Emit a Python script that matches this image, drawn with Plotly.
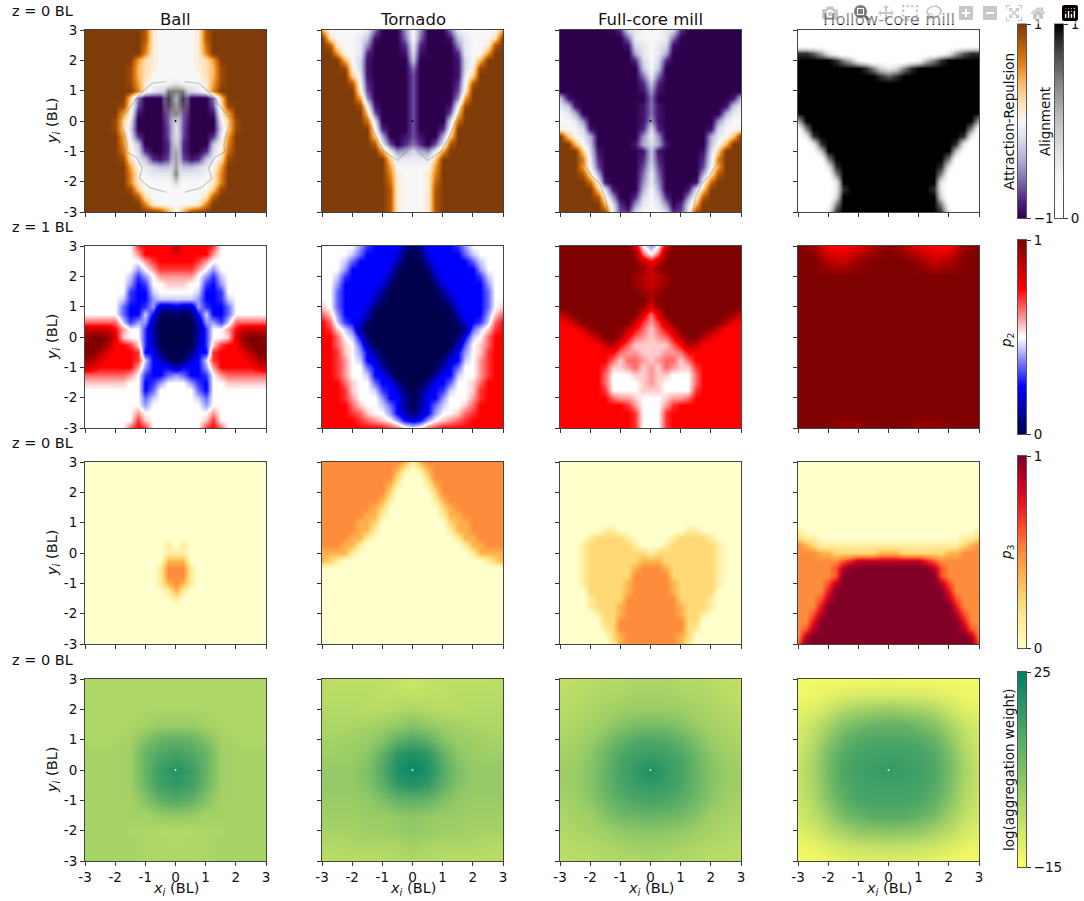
import numpy as np
import plotly.graph_objects as go
from plotly.subplots import make_subplots

# Every map is left-right symmetric, so rows hold x = -3 .. 0 and get mirrored.
# Rows run from y = 3 at the top to y = -3 at the bottom.
titles = ["Ball", "Tornado", "Full-core mill", "Hollow-core mill"]
row_labels = ["z = 0 BL", "z = 1 BL", "z = 0 BL", "z = 0 BL"]
tick_vals = [-3, -2, -1, 0, 1, 2, 3]
tick_text = ["-3", "-2", "-1", "0", "1", "2", "3"]

# attraction-repulsion, in tenths (-10 .. 10)
ball_attract = [
    [10,10,10,10,10,10,10,10,8,1,0,0,0],
    [10,10,10,10,10,10,10,10,8,1,0,0,0],
    [10,10,10,10,10,10,10,10,7,1,0,0,0],
    [10,10,10,10,10,10,10,10,6,1,0,0,0],
    [10,10,10,10,10,10,10,5,2,1,0,0,0],
    [10,10,10,10,10,10,9,4,2,1,0,0,0],
    [10,10,10,10,10,10,9,4,2,0,0,0,0],
    [10,10,10,10,10,10,9,5,1,0,0,0,0],
    [10,10,10,10,10,10,10,6,1,-1,-2,-1,0],
    [10,10,10,10,10,10,3,-6,-10,-10,-10,-7,-1],
    [10,10,10,10,10,9,2,-7,-10,-10,-10,-8,-1],
    [10,10,10,10,10,5,1,-9,-10,-10,-10,-8,-1],
    [10,10,10,10,9,3,-1,-10,-10,-10,-10,-7,-1],
    [10,10,10,10,9,3,-2,-10,-10,-10,-10,-7,-1],
    [10,10,10,10,10,5,-1,-8,-10,-10,-10,-7,-1],
    [10,10,10,10,10,6,0,-3,-10,-10,-10,-8,-1],
    [10,10,10,10,10,7,1,-2,-8,-10,-10,-8,-1],
    [10,10,10,10,10,9,2,-1,-3,-8,-9,-7,-1],
    [10,10,10,10,10,10,5,0,-1,-2,-3,-3,-1],
    [10,10,10,10,10,10,6,1,0,-1,-1,-1,-1],
    [10,10,10,10,10,10,6,1,0,0,0,0,-1],
    [10,10,10,10,10,10,9,3,0,0,0,0,0],
    [10,10,10,10,10,10,10,8,2,0,0,0,0],
    [10,10,10,10,10,10,10,10,6,1,0,0,0],
    [10,10,10,10,10,10,10,10,10,10,9,5,0],
]
tornado_attract = [
    [5,0,0,0,0,0,-1,-6,-10,-10,-10,-5,0],
    [10,2,0,0,0,-1,-3,-9,-10,-10,-10,-6,0],
    [10,8,1,0,0,-1,-5,-10,-10,-10,-10,-8,-1],
    [10,10,5,0,0,-1,-8,-10,-10,-10,-10,-9,-2],
    [10,10,10,4,0,-2,-9,-10,-10,-10,-10,-10,-3],
    [10,10,10,9,1,-2,-9,-10,-10,-10,-10,-10,-6],
    [10,10,10,10,3,-1,-9,-10,-10,-10,-10,-10,-7],
    [10,10,10,10,8,0,-8,-10,-10,-10,-10,-10,-7],
    [10,10,10,10,10,1,-7,-10,-10,-10,-10,-10,-7],
    [10,10,10,10,10,5,-5,-10,-10,-10,-10,-10,-7],
    [10,10,10,10,10,9,0,-9,-10,-10,-10,-10,-7],
    [10,10,10,10,10,10,3,-7,-10,-10,-10,-10,-7],
    [10,10,10,10,10,10,7,-2,-10,-10,-10,-10,-7],
    [10,10,10,10,10,10,10,0,-8,-10,-10,-10,-7],
    [10,10,10,10,10,10,10,3,-4,-10,-10,-9,-7],
    [10,10,10,10,10,10,10,8,-1,-7,-10,-8,-6],
    [10,10,10,10,10,10,10,10,5,-1,-5,-4,-2],
    [10,10,10,10,10,10,10,10,10,3,-1,-1,-1],
    [10,10,10,10,10,10,10,10,10,5,0,0,0],
    [10,10,10,10,10,10,10,10,10,6,1,0,0],
    [10,10,10,10,10,10,10,10,10,7,1,0,0],
    [10,10,10,10,10,10,10,10,10,8,1,0,0],
    [10,10,10,10,10,10,10,10,10,8,1,0,0],
    [10,10,10,10,10,10,10,10,10,8,1,0,0],
    [10,10,10,10,10,10,10,10,10,8,1,0,0],
]
full_attract = [
    [-10,-10,-10,-10,-10,-10,-10,-10,-8,-2,-1,0,0],
    [-10,-10,-10,-10,-10,-10,-10,-10,-10,-6,-1,0,0],
    [-10,-10,-10,-10,-10,-10,-10,-10,-10,-9,-2,-1,0],
    [-10,-10,-10,-10,-10,-10,-10,-10,-10,-10,-4,-1,0],
    [-10,-10,-10,-10,-10,-10,-10,-10,-10,-10,-8,-2,0],
    [-10,-10,-10,-10,-10,-10,-10,-10,-10,-10,-10,-3,0],
    [-10,-10,-10,-10,-10,-10,-10,-10,-10,-10,-10,-6,-1],
    [-10,-10,-10,-10,-10,-10,-10,-10,-10,-10,-10,-8,-3],
    [-10,-10,-10,-10,-10,-10,-10,-10,-10,-10,-10,-9,-5],
    [-3,-9,-10,-10,-10,-10,-10,-10,-10,-10,-10,-10,-6],
    [-1,-3,-9,-10,-10,-10,-10,-10,-10,-10,-10,-9,-6],
    [0,-1,-4,-10,-10,-10,-10,-10,-10,-10,-10,-9,-6],
    [0,0,-1,-5,-10,-10,-10,-10,-10,-10,-10,-9,-5],
    [1,0,0,-2,-9,-10,-10,-10,-10,-10,-10,-8,-2],
    [10,3,0,-1,-4,-10,-10,-10,-10,-10,-10,-5,-1],
    [10,10,4,0,-3,-10,-10,-10,-10,-10,-9,-4,-2],
    [10,10,10,3,-2,-9,-10,-10,-10,-10,-10,-9,-3],
    [10,10,10,6,-1,-8,-10,-10,-10,-10,-10,-8,-3],
    [10,10,10,5,0,-7,-10,-10,-10,-10,-10,-7,-2],
    [10,10,10,8,2,-4,-10,-10,-10,-10,-10,-6,-1],
    [10,10,10,10,7,0,-9,-10,-10,-10,-10,-5,-1],
    [10,10,10,10,10,3,-2,-9,-10,-10,-10,-4,0],
    [10,10,10,10,10,8,1,-5,-10,-10,-8,-2,0],
    [10,10,10,10,10,10,4,-2,-8,-10,-5,-1,0],
    [10,10,10,10,10,10,9,-1,-7,-8,-2,0,0],
]

# thin grey traces along the attraction boundary, left half
ball_ring_x = [-0.3, -0.75, -1.0, -1.25, -1.5, -1.8, -1.82, -1.7, -1.6, -1.65, -1.3, -1.1, -1.2, -0.85, -0.3]
ball_ring_y = [1.3, 1.25, 1.05, 0.8, 0.45, 0.1, -0.1, -0.4, -0.8, -1.0, -1.2, -1.55, -1.9, -2.2, -2.35]
tornado_ring_x = [-1.65, -1.45, -1.2, -0.95, -0.5, -0.1]
tornado_ring_y = [0.5, 0.0, -0.55, -1.0, -1.3, -0.9]
full_ring_x = [-2.4, -2.25, -2.15, -1.95, -1.7, -1.5, -1.4]
full_ring_y = [-1.0, -1.3, -1.5, -1.8, -2.05, -2.5, -3.0]

# alignment, in tenths (0 .. 10)
hollow_align = [
    [0,0,0,0,0,0,0,0,0,0,0,0,0],
    [0,0,0,0,0,0,0,0,0,0,0,0,0],
    [0,0,0,0,0,0,0,0,0,0,0,0,0],
    [9,9,8,6,3,1,0,0,0,0,0,0,0],
    [10,10,10,10,10,9,7,5,2,1,0,0,0],
    [10,10,10,10,10,10,10,10,10,9,7,4,3],
    [10,10,10,10,10,10,10,10,10,10,10,9,8],
    [10,10,10,10,10,10,10,10,10,10,10,10,10],
    [10,10,10,10,10,10,10,10,10,10,10,10,10],
    [10,10,10,10,10,10,10,10,10,10,10,10,10],
    [10,10,10,10,10,10,10,10,10,10,10,10,10],
    [10,10,10,10,10,10,10,10,10,10,10,10,10],
    [6,10,10,10,10,10,10,10,10,10,10,10,10],
    [1,7,10,10,10,10,10,10,10,10,10,10,10],
    [0,3,9,10,10,10,10,10,10,10,10,10,10],
    [0,0,3,9,10,10,10,10,10,10,10,10,10],
    [0,0,1,5,10,10,10,10,10,10,10,10,10],
    [0,0,0,1,7,10,10,10,10,10,10,10,10],
    [0,0,0,0,3,9,10,10,10,10,10,10,10],
    [0,0,0,0,1,7,10,10,10,10,10,10,10],
    [0,0,0,0,0,3,10,10,10,10,10,10,10],
    [0,0,0,0,0,3,9,10,10,10,10,10,10],
    [0,0,0,0,0,4,10,10,10,10,10,10,10],
    [0,0,0,0,1,7,10,10,10,10,10,10,10],
    [0,0,0,0,3,9,10,10,10,10,10,10,10],
]
# grey streak of the ball, columns x = -0.5 .. 0.5, rows y = 1.5 .. -2.25
ball_streak_x = [-0.5, -0.25, 0, 0.25, 0.5]
ball_streak_y = [1.5, 1.25, 1, 0.75, 0.5, 0.25, 0, -0.25, -0.5, -0.75, -1, -1.25, -1.5, -1.75, -2, -2.25]
ball_streak = [
    [0,0,0,0,0],
    [0,1,3,1,0],
    [1,7,7,7,1],
    [0,8,5,8,0],
    [0,7,6,7,0],
    [0,3,7,3,0],
    [0,1,4,1,0],
    [0,0,2,0,0],
    [0,0,3,0,0],
    [0,0,4,0,0],
    [0,0,6,0,0],
    [0,0,6,0,0],
    [0,0,6,0,0],
    [0,0,7,0,0],
    [0,0,4,0,0],
    [0,0,0,0,0],
]

# p2, in twentieths (10 is the white middle of the scale)
ball_p2 = [
    [10,10,10,10,10,10,10,14,15,15,15,15,18],
    [10,10,10,10,10,10,10,12,15,15,15,15,16],
    [10,10,10,10,10,10,10,10,12,14,15,15,15],
    [10,10,10,10,10,10,10,8,10,12,14,14,14],
    [10,10,10,10,10,10,9,6,8,10,12,12,12],
    [10,10,10,10,10,10,8,5,6,10,10,11,11],
    [10,10,10,10,10,10,6,5,5,9,10,10,10],
    [10,10,10,10,10,9,6,5,5,8,9,9,9],
    [10,10,10,10,10,7,5,5,6,8,3,3,4],
    [10,10,10,10,10,7,5,5,9,5,1,0,1],
    [13,13,13,13,13,9,6,8,8,3,0,0,0],
    [17,17,17,17,15,12,10,10,6,2,0,0,0],
    [19,20,20,19,16,11,10,10,6,3,0,0,0],
    [20,20,20,18,15,15,14,11,6,3,0,0,0],
    [20,20,18,16,15,15,15,14,5,5,1,0,0],
    [19,18,16,15,15,15,15,14,9,5,4,1,0],
    [17,16,15,15,15,15,15,12,8,5,5,5,3],
    [13,13,13,13,13,13,12,10,6,5,5,7,8],
    [11,11,11,11,11,11,10,10,5,6,8,10,10],
    [10,10,10,10,10,10,10,10,5,7,10,10,10],
    [10,10,10,10,10,10,10,10,7,9,10,10,10],
    [10,10,10,10,10,10,10,10,8,10,10,10,10],
    [10,10,10,10,10,10,10,12,10,10,10,10,10],
    [10,10,10,10,10,10,10,14,11,10,10,10,10],
    [10,10,10,10,10,10,13,15,14,10,10,10,10],
]
tornado_p2 = [
    [10,10,10,10,10,8,6,5,5,5,5,2,0],
    [10,10,10,10,9,7,5,5,5,5,4,1,0],
    [10,10,10,9,7,5,5,5,5,5,3,0,0],
    [10,10,10,8,5,5,5,5,5,4,1,0,0],
    [10,10,9,6,5,5,5,5,5,3,0,0,0],
    [10,10,8,5,5,5,5,5,4,1,0,0,0],
    [10,10,7,5,5,5,5,4,2,0,0,0,0],
    [10,10,7,5,5,5,5,3,1,0,0,0,0],
    [11,10,7,5,5,5,4,1,0,0,0,0,0],
    [13,11,8,5,5,5,3,0,0,0,0,0,0],
    [15,13,9,6,5,4,1,0,0,0,0,0,0],
    [15,14,11,9,7,2,0,0,0,0,0,0,0],
    [15,15,13,10,9,5,1,0,0,0,0,0,0],
    [15,15,13,11,10,7,3,0,0,0,0,0,0],
    [15,15,14,11,10,8,5,2,0,0,0,0,0],
    [15,15,14,12,10,9,5,4,1,0,0,0,0],
    [15,15,14,12,10,10,7,5,3,0,0,0,0],
    [15,15,14,12,10,10,9,5,5,2,0,0,0],
    [15,15,15,13,11,10,10,7,5,5,2,0,0],
    [15,15,15,14,11,10,10,9,6,5,4,1,0],
    [15,15,15,14,12,10,10,10,8,5,5,2,0],
    [15,15,15,15,13,11,10,10,9,7,5,2,0],
    [15,15,15,15,14,13,11,10,10,8,5,3,1],
    [15,15,15,15,15,14,13,12,11,10,8,5,4],
    [15,15,15,15,15,15,15,15,15,14,13,11,10],
]
full_p2 = [
    [20,20,20,20,20,20,20,20,20,20,17,10,8],
    [20,20,20,20,20,20,20,20,20,20,19,13,10],
    [20,20,20,20,20,20,20,20,20,20,20,17,15],
    [20,20,20,20,20,20,20,20,20,20,20,19,17],
    [20,20,20,20,20,20,20,20,20,20,19,18,17],
    [20,20,20,20,20,20,20,20,20,20,19,18,17],
    [20,20,20,20,20,20,20,20,20,20,20,19,18],
    [20,20,20,20,20,20,20,20,20,20,20,20,18],
    [20,20,20,20,20,20,20,20,20,20,20,19,16],
    [17,19,20,20,20,20,20,20,20,20,20,16,13],
    [15,16,18,20,20,20,20,20,20,20,17,14,12],
    [15,15,15,17,19,20,20,20,20,17,15,13,11],
    [15,15,15,15,16,18,20,20,18,15,13,12,11],
    [15,15,15,15,15,15,17,18,15,13,11,11,11],
    [15,15,15,15,15,15,15,15,13,12,12,11,11],
    [15,15,15,15,15,15,15,13,11,13,13,12,11],
    [15,15,15,15,15,15,14,11,11,12,13,11,12],
    [15,15,15,15,15,15,13,10,10,10,11,11,12],
    [15,15,15,15,15,15,13,10,10,10,10,11,12],
    [15,15,15,15,15,15,14,10,10,10,10,11,11],
    [15,15,15,15,15,15,15,13,12,12,11,10,10],
    [15,15,15,15,15,15,15,15,15,14,12,10,10],
    [15,15,15,15,15,15,15,15,15,15,14,10,10],
    [15,15,15,15,15,15,15,15,15,15,14,10,10],
    [15,15,15,15,15,15,15,15,15,15,14,10,10],
]
# 0.5 BL steps are enough for this flat one
hollow_p2 = [
    [20,19,15,15,16,18,20],
    [20,20,18,17,19,20,20],
    [20,20,20,20,20,20,20],
    [20,20,20,20,20,20,20],
    [20,20,20,20,20,20,20],
    [20,20,20,20,20,20,20],
    [20,20,20,20,20,20,20],
    [20,20,20,20,20,20,20],
    [20,20,20,20,20,20,20],
    [20,20,20,20,20,20,20],
    [20,20,20,20,20,20,20],
    [20,20,20,20,20,20,20],
    [20,20,20,19,19,20,20],
]

# p3, in eighths
ball_p3 = [
    [0,0,0,0,0,0,0,0,0,0,0,0,0],
    [0,0,0,0,0,0,0,0,0,0,0,0,0],
    [0,0,0,0,0,0,0,0,0,0,0,0,0],
    [0,0,0,0,0,0,0,0,0,0,0,0,0],
    [0,0,0,0,0,0,0,0,0,0,0,0,0],
    [0,0,0,0,0,0,0,0,0,0,0,0,0],
    [0,0,0,0,0,0,0,0,0,0,0,0,0],
    [0,0,0,0,0,0,0,0,0,0,0,0,0],
    [0,0,0,0,0,0,0,0,0,0,0,0,0],
    [0,0,0,0,0,0,0,0,0,0,0,0,0],
    [0,0,0,0,0,0,0,0,0,0,0,0,0],
    [0,0,0,0,0,0,0,0,0,0,0,1,0],
    [0,0,0,0,0,0,0,0,0,0,0,1,1],
    [0,0,0,0,0,0,0,0,0,0,0,3,3],
    [0,0,0,0,0,0,0,0,0,0,1,4,4],
    [0,0,0,0,0,0,0,0,0,0,1,4,4],
    [0,0,0,0,0,0,0,0,0,0,1,3,4],
    [0,0,0,0,0,0,0,0,0,0,0,1,3],
    [0,0,0,0,0,0,0,0,0,0,0,0,1],
    [0,0,0,0,0,0,0,0,0,0,0,0,0],
    [0,0,0,0,0,0,0,0,0,0,0,0,0],
    [0,0,0,0,0,0,0,0,0,0,0,0,0],
    [0,0,0,0,0,0,0,0,0,0,0,0,0],
    [0,0,0,0,0,0,0,0,0,0,0,0,0],
    [0,0,0,0,0,0,0,0,0,0,0,0,0],
]
tornado_p3 = [
    [4,4,4,4,4,4,4,4,4,4,4,3,1],
    [4,4,4,4,4,4,4,4,4,4,3,1,0],
    [4,4,4,4,4,4,4,4,4,4,2,0,0],
    [4,4,4,4,4,4,4,4,4,3,1,0,0],
    [4,4,4,4,4,4,4,4,4,2,0,0,0],
    [4,4,4,4,4,4,4,4,3,1,0,0,0],
    [4,4,4,4,4,4,4,3,2,0,0,0,0],
    [4,4,4,4,4,4,3,3,1,0,0,0,0],
    [4,4,4,4,4,3,3,2,0,0,0,0,0],
    [4,4,4,4,4,3,3,1,0,0,0,0,0],
    [4,4,4,4,3,3,1,0,0,0,0,0,0],
    [4,4,4,3,3,1,0,0,0,0,0,0,0],
    [3,3,3,3,1,0,0,0,0,0,0,0,0],
    [3,2,1,0,0,0,0,0,0,0,0,0,0],
    [0,0,0,0,0,0,0,0,0,0,0,0,0],
    [0,0,0,0,0,0,0,0,0,0,0,0,0],
    [0,0,0,0,0,0,0,0,0,0,0,0,0],
    [0,0,0,0,0,0,0,0,0,0,0,0,0],
    [0,0,0,0,0,0,0,0,0,0,0,0,0],
    [0,0,0,0,0,0,0,0,0,0,0,0,0],
    [0,0,0,0,0,0,0,0,0,0,0,0,0],
    [0,0,0,0,0,0,0,0,0,0,0,0,0],
    [0,0,0,0,0,0,0,0,0,0,0,0,0],
    [0,0,0,0,0,0,0,0,0,0,0,0,0],
    [0,0,0,0,0,0,0,0,0,0,0,0,0],
]
full_p3 = [
    [0,0,0,0,0,0,0,0,0,0,0,0,0],
    [0,0,0,0,0,0,0,0,0,0,0,0,0],
    [0,0,0,0,0,0,0,0,0,0,0,0,0],
    [0,0,0,0,0,0,0,0,0,0,0,0,0],
    [0,0,0,0,0,0,0,0,0,0,0,0,0],
    [0,0,0,0,0,0,0,0,0,0,0,0,0],
    [0,0,0,0,0,0,0,0,0,0,0,0,0],
    [0,0,0,0,0,0,0,0,0,0,0,0,0],
    [0,0,0,0,0,0,0,0,0,0,0,0,0],
    [0,0,0,0,0,0,1,1,0,0,0,0,0],
    [0,0,0,0,1,2,2,2,2,1,0,0,0],
    [0,0,0,1,2,2,2,2,2,2,1,0,0],
    [0,0,0,1,2,2,2,2,2,2,2,2,1],
    [0,0,0,1,2,2,2,2,2,2,2,3,3],
    [0,0,0,1,2,2,2,2,2,2,3,4,4],
    [0,0,0,1,2,2,2,2,2,2,4,4,4],
    [0,0,0,1,2,2,2,2,2,3,4,4,4],
    [0,0,0,0,2,2,2,2,2,3,4,4,4],
    [0,0,0,0,1,2,2,2,2,4,4,4,4],
    [0,0,0,0,1,2,2,2,3,4,4,4,4],
    [0,0,0,0,0,1,2,2,3,4,4,4,4],
    [0,0,0,0,0,0,2,2,4,4,4,4,4],
    [0,0,0,0,0,0,1,2,4,4,4,4,4],
    [0,0,0,0,0,0,0,2,3,4,4,4,4],
    [0,0,0,0,0,0,0,1,3,4,4,4,4],
]
hollow_p3 = [
    [0,0,0,0,0,0,0,0,0,0,0,0,0],
    [0,0,0,0,0,0,0,0,0,0,0,0,0],
    [0,0,0,0,0,0,0,0,0,0,0,0,0],
    [0,0,0,0,0,0,0,0,0,0,0,0,0],
    [0,0,0,0,0,0,0,0,0,0,0,0,0],
    [0,0,0,0,0,0,0,0,0,0,0,0,0],
    [0,0,0,0,0,0,0,0,0,0,0,0,0],
    [0,0,0,0,0,0,0,0,0,0,0,0,0],
    [0,0,0,0,0,0,0,0,0,0,0,0,0],
    [1,0,0,0,0,0,0,0,0,0,0,0,0],
    [2,1,1,0,0,0,0,0,0,0,0,0,0],
    [4,3,2,1,1,1,1,1,1,1,1,1,1],
    [4,4,4,3,3,2,2,2,2,2,2,3,3],
    [4,4,4,4,4,4,5,6,7,7,7,7,7],
    [4,4,4,4,4,5,7,8,8,8,8,8,8],
    [4,4,4,4,4,5,8,8,8,8,8,8,8],
    [4,4,4,4,5,7,8,8,8,8,8,8,8],
    [4,4,4,4,6,8,8,8,8,8,8,8,8],
    [4,4,4,5,7,8,8,8,8,8,8,8,8],
    [4,4,4,6,8,8,8,8,8,8,8,8,8],
    [4,4,5,7,8,8,8,8,8,8,8,8,8],
    [4,4,6,8,8,8,8,8,8,8,8,8,8],
    [4,5,7,8,8,8,8,8,8,8,8,8,8],
    [4,7,8,8,8,8,8,8,8,8,8,8,8],
    [5,8,8,8,8,8,8,8,8,8,8,8,8],
]

# log(aggregation weight), real units, 0.5 BL steps
ball_log = [
    [-2,-2,-2,-2,-2,-2,-2],
    [-2,-2,-2,-2,-2,-2,-2],
    [-2,-2,-2,-2,-2,-2,-2],
    [-2,-2,-2,-2,-1,1,1],
    [-2,-2,-2,-1,5,9,10],
    [-1,-1,-1,0,9,13,15],
    [-1,-1,-1,0,9,16,19],
    [-1,-1,-1,0,8,15,17],
    [-1,-1,-1,-1,4,10,12],
    [-1,-1,-1,-1,-1,1,2],
    [-1,-1,-1,-2,-2,-3,-3],
    [-1,-1,-1,-1,-2,-2,-3],
    [-1,-1,-1,-1,-2,-2,-2],
]
tornado_log = [
    [-4,-5,-5,-5,-5,-6,-7],
    [-4,-4,-4,-4,-5,-5,-6],
    [-3,-3,-3,-4,-4,-3,-2],
    [-2,-2,-2,-1,0,2,4],
    [-1,-1,0,1,4,10,13],
    [0,0,1,3,10,18,21],
    [2,2,2,5,12,20,23],
    [2,2,2,4,10,17,19],
    [1,1,1,2,5,9,10],
    [0,0,0,1,1,2,3],
    [-1,-1,-1,0,0,1,2],
    [-3,-3,-2,-2,-2,-2,0],
    [-4,-4,-4,-4,-4,-3,-3],
]
full_log = [
    [-5,-5,-4,-3,-3,-2,-2],
    [-5,-4,-3,-2,-2,-1,-1],
    [-4,-3,-2,-1,0,1,1],
    [-3,-2,-1,1,4,6,6],
    [-2,-1,1,5,9,12,13],
    [-1,0,3,8,13,15,16],
    [0,1,4,9,14,17,20],
    [0,1,4,9,13,16,17],
    [-1,0,3,7,11,13,14],
    [-2,-1,0,4,7,8,9],
    [-3,-2,-1,0,2,3,3],
    [-4,-3,-3,-2,-1,0,0],
    [-5,-4,-4,-3,-3,-3,-2],
]
hollow_log = [
    [-13,-13,-13,-13,-13,-13,-12],
    [-13,-12,-11,-10,-9,-9,-9],
    [-11,-10,-7,-3,-1,0,1],
    [-9,-6,-1,4,7,9,9],
    [-8,-4,3,9,12,13,13],
    [-7,-2,6,12,14,15,15],
    [-6,-1,7,13,15,16,17],
    [-6,-2,6,12,14,15,15],
    [-7,-3,4,10,13,14,14],
    [-8,-5,0,6,9,11,11],
    [-10,-8,-4,-1,2,3,4],
    [-12,-11,-9,-7,-6,-5,-5],
    [-13,-13,-12,-11,-10,-10,-10],
]

PANEL_LEFT = [85, 322, 560, 798]
PANEL_TOP = [30, 246, 462, 679]
PANEL_W = 181
PANEL_H = 182
W, H = 1084, 901

PUOR = [[0, "#2d004b"], [0.1, "#542788"], [0.2, "#8073ac"], [0.3, "#b2abd2"], [0.4, "#d8daeb"], [0.5, "#f7f7f7"],
        [0.6, "#fee0b6"], [0.7, "#fdb863"], [0.8, "#e08214"], [0.9, "#b35806"], [1, "#7f3b08"]]
GREY_ALPHA = [[0, "rgba(255,255,255,0)"], [1, "rgba(0,0,0,1)"]]
SEISMIC = [[0, "#00004c"], [0.25, "#0000ff"], [0.5, "#ffffff"], [0.75, "#ff0000"], [1, "#7f0000"]]
YLORRD = [[0, "#ffffcc"], [0.125, "#ffeda0"], [0.25, "#fed976"], [0.375, "#feb24c"], [0.5, "#fd8d3c"],
          [0.625, "#fc4e2a"], [0.75, "#e31a1c"], [0.875, "#bd0026"], [1, "#800026"]]
SUMMER_R = [[0, "#ffff66"], [1, "#008066"]]


def mirror(rows):
    # top row first in the lists, plotly wants y ascending
    return np.array([r + r[-2::-1] for r in rows][::-1], dtype=float)


def add_map(fig, r, c, rows, scale, zmin, zmax, divide):
    z = mirror(rows) / divide
    axis = np.linspace(-3, 3, z.shape[0])
    fig.add_trace(go.Heatmap(x=axis, y=axis, z=z, colorscale=scale, zmin=zmin, zmax=zmax, zsmooth="best",
                             showscale=False, hoverinfo="skip"), row=r, col=c)


def add_ring(fig, r, c, xs, ys):
    # drawn once per side
    for sign in (1, -1):
        fig.add_trace(go.Scatter(x=[sign * v for v in xs], y=ys, mode="lines", hoverinfo="skip", showlegend=False,
                                 line=dict(color="rgba(130,130,130,0.4)", width=1.3)), row=r, col=c)


fig = make_subplots(rows=4, cols=4)

add_map(fig, 1, 1, ball_attract, PUOR, -1, 1, 10)
fig.add_trace(go.Heatmap(x=ball_streak_x, y=ball_streak_y[::-1], z=(np.array(ball_streak[::-1]) / 10),
                         colorscale=GREY_ALPHA, zmin=0, zmax=1, zsmooth="best", showscale=False, hoverinfo="skip"), row=1, col=1)
add_ring(fig, 1, 1, ball_ring_x, ball_ring_y)
add_map(fig, 1, 2, tornado_attract, PUOR, -1, 1, 10)
add_ring(fig, 1, 2, tornado_ring_x, tornado_ring_y)
add_map(fig, 1, 3, full_attract, PUOR, -1, 1, 10)
add_ring(fig, 1, 3, full_ring_x, full_ring_y)
add_map(fig, 1, 4, hollow_align, GREY_ALPHA, 0, 1, 10)

add_map(fig, 2, 1, ball_p2, SEISMIC, 0, 1, 20)
add_map(fig, 2, 2, tornado_p2, SEISMIC, 0, 1, 20)
add_map(fig, 2, 3, full_p2, SEISMIC, 0, 1, 20)
add_map(fig, 2, 4, hollow_p2, SEISMIC, 0, 1, 20)

add_map(fig, 3, 1, ball_p3, YLORRD, 0, 1, 8)
add_map(fig, 3, 2, tornado_p3, YLORRD, 0, 1, 8)
add_map(fig, 3, 3, full_p3, YLORRD, 0, 1, 8)
add_map(fig, 3, 4, hollow_p3, YLORRD, 0, 1, 8)

add_map(fig, 4, 1, ball_log, SUMMER_R, -15, 25, 1)
add_map(fig, 4, 2, tornado_log, SUMMER_R, -15, 25, 1)
add_map(fig, 4, 3, full_log, SUMMER_R, -15, 25, 1)
add_map(fig, 4, 4, hollow_log, SUMMER_R, -15, 25, 1)

# the little dot each map has at the origin
for r, colour in [(1, "black"), (4, "#d8f0d0")]:
    for c in range(1, 5):
        if r == 1 and c == 4:
            continue
        fig.add_trace(go.Scatter(x=[0], y=[0], mode="markers", marker=dict(size=2, color=colour),
                                 showlegend=False, hoverinfo="skip"), row=r, col=c)

text_font = dict(family="DejaVu Sans", size=13.5, color="#111111")
for r in range(1, 5):
    for c in range(1, 5):
        left = PANEL_LEFT[c - 1]
        top = PANEL_TOP[r - 1]
        common = dict(range=[-3, 3], autorange=False, automargin=False, tickmode="array", tickvals=tick_vals,
                      ticktext=tick_text, ticks="outside", ticklen=4, tickcolor="#333333", showgrid=False,
                      zeroline=False, showline=True, mirror=True, linecolor="#444444", linewidth=1, tickfont=text_font)
        fig.update_xaxes(domain=[left / W, (left + PANEL_W) / W], showticklabels=r == 4, row=r, col=c, **common)
        fig.update_yaxes(domain=[1 - (top + PANEL_H) / H, 1 - top / H], showticklabels=c == 1, row=r, col=c, **common)

# colour bars as narrow heatmaps on their own axes, a native colorbar would push the margins
BARS = [
    (1018, 24, 218, PUOR, -1, 1, ["−1", "1"]),
    (1055, 24, 218, GREY_ALPHA, 0, 1, ["0", "1"]),
    (1018, 240, 434, SEISMIC, 0, 1, ["0", "1"]),
    (1018, 456, 648, YLORRD, 0, 1, ["0", "1"]),
    (1018, 672, 867, SUMMER_R, -15, 25, ["−15", "25"]),
]
for i, (left, top, bottom, scale, lo, hi, labels) in enumerate(BARS):
    n = 17 + i
    fig.add_trace(go.Heatmap(x=[0, 1], y=[lo + (hi - lo) * k / 100 for k in range(101)],
                             z=[[lo + (hi - lo) * k / 100] * 2 for k in range(101)], colorscale=scale, zmin=lo, zmax=hi,
                             zsmooth="best", showscale=False, hoverinfo="skip", xaxis=f"x{n}", yaxis=f"y{n}"))
    fig.update_layout({
        f"xaxis{n}": dict(domain=[left / W, (left + 8) / W], range=[0, 1], anchor=f"y{n}", showticklabels=False, ticks="",
                          showgrid=False, zeroline=False, showline=True, mirror=True, linecolor="#555555", automargin=False),
        f"yaxis{n}": dict(domain=[1 - bottom / H, 1 - top / H], range=[lo, hi], anchor=f"x{n}", side="right", tickmode="array",
                          tickvals=[lo, hi], ticktext=labels, ticks="outside", ticklen=4, tickcolor="#333333", showgrid=False,
                          zeroline=False, showline=True, mirror=True, linecolor="#555555", tickfont=text_font, automargin=False),
    })


def note(text, px, py, size=14.5, angle=0):
    fig.add_annotation(text=text, x=px / W, y=1 - py / H, xref="paper", yref="paper", showarrow=False,
                       xanchor="center", yanchor="middle", textangle=angle,
                       font=dict(family="DejaVu Sans", size=size, color="#111111"))


for c, name in enumerate(titles):
    note(name, PANEL_LEFT[c] + PANEL_W / 2, 19, size=16.5)
    note("<i>x<sub>i</sub></i> (BL)", PANEL_LEFT[c] + PANEL_W / 2, 889, size=14.5)
for label, py in zip(row_labels, [11, 227, 443, 660]):
    note(label, 42, py, size=14.5)
for top in PANEL_TOP:
    note("<i>y<sub>i</sub></i> (BL)", 53, top + PANEL_H / 2, size=14.5, angle=-90)
note("Attraction-Repulsion", 1009, 122, size=13.5, angle=-90)
note("Alignment", 1045, 122, size=13.5, angle=-90)
note("<i>p</i><sub>2</sub>", 1007, 340, size=13.5, angle=-90)
note("<i>p</i><sub>3</sub>", 1007, 552, size=13.5, angle=-90)
note("log(aggregation weight)", 1009, 770, size=13.5, angle=-90)

fig.update_layout(width=W, height=H, margin=dict(l=0, r=0, t=0, b=0), plot_bgcolor="white", paper_bgcolor="white",
                  showlegend=False)
# the page keeps the browser's 8px body margin otherwise
fig.write_html("out.html", post_script="document.body.style.margin='0';")
